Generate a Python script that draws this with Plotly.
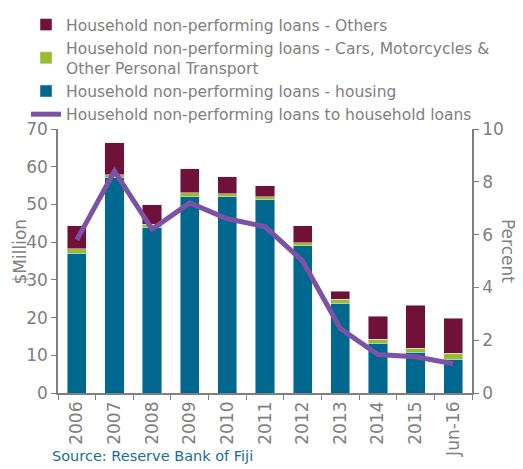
import plotly.graph_objects as go

# data
years = ['2006', '2007', '2008', '2009', '2010', '2011', '2012', '2013', '2014', '2015', 'Jun-16']
housing = [37.1, 57.2, 44.0, 52.0, 52.0, 51.2, 39.0, 23.8, 13.2, 10.8, 8.9]
cars = [1.1, 0.7, 0.8, 1.1, 0.8, 0.8, 0.8, 1.1, 1.1, 1.1, 1.6]
others = [6.1, 8.5, 5.1, 6.4, 4.5, 2.9, 4.5, 2.1, 6.1, 11.4, 9.3]
npl_ratio = [5.8, 8.4, 6.2, 7.2, 6.6, 6.3, 5.0, 2.44, 1.46, 1.37, 1.11]

grey = '#808080'
font_name = 'DejaVu Sans'

fig = go.Figure()

fig.add_trace(go.Bar(
    name='Household non-performing loans - housing',
    x=years, y=housing, marker_color='#00678F', legendrank=3
))
fig.add_trace(go.Bar(
    name='Household non-performing loans - Cars, Motorcycles &<br>Other Personal Transport',
    x=years, y=cars, marker_color='#9BBB2F', legendrank=2
))
fig.add_trace(go.Bar(
    name='Household non-performing loans - Others',
    x=years, y=others, marker_color='#701238', legendrank=1
))
fig.add_trace(go.Scatter(
    name='Household non-performing loans to household loans',
    x=years, y=npl_ratio, yaxis='y2', mode='lines',
    line=dict(color='#7B52A5', width=5), legendrank=4
))

# page body has an 8px margin, so the figure is a bit smaller than the window
fig.update_layout(
    width=515, height=461,
    barmode='stack', bargap=0.49,
    plot_bgcolor='white', paper_bgcolor='white',
    font=dict(family=font_name, color=grey, size=14),
    margin=dict(l=50, r=51, t=121, b=76, autoexpand=False),
    legend=dict(
        xref='container', yref='container',
        x=0.035, y=1.015, xanchor='left', yanchor='top',
        traceorder='normal',
        font=dict(size=15.5, color=grey), tracegroupgap=5,
        bgcolor='rgba(0,0,0,0)'
    ),
    xaxis=dict(
        automargin=False,
        showline=True, linecolor=grey, linewidth=1.5,
        ticks='outside', tickson='boundaries', ticklen=5, tickcolor=grey,
        tickangle=-90, tickfont=dict(size=17, color=grey)
    ),
    yaxis=dict(
        automargin=False,
        range=[0, 70], dtick=10, showgrid=False, zeroline=False,
        showline=True, linecolor=grey, linewidth=1.5,
        ticks='outside', ticklen=5, tickcolor=grey,
        tickfont=dict(size=17, color=grey)
    ),
    yaxis2=dict(
        automargin=False,
        range=[0, 10], dtick=2, overlaying='y', side='right',
        showgrid=False, zeroline=False,
        showline=True, linecolor=grey, linewidth=1.5,
        ticks='outside', ticklen=5, tickcolor=grey,
        tickfont=dict(size=17, color=grey)
    ),
    annotations=[
        dict(
            text='Source: Reserve Bank of Fiji', xref='paper', yref='paper',
            x=-0.019, y=-0.2, xanchor='left', yanchor='top', showarrow=False,
            font=dict(size=14.5, color='#1A6E96')
        ),
        dict(
            text='$Million', xref='paper', yref='paper',
            x=-0.093, y=0.538, xanchor='center', yanchor='middle', showarrow=False,
            textangle=-90, font=dict(size=17, color=grey)
        ),
        dict(
            text='Percent', xref='paper', yref='paper',
            x=1.087, y=0.538, xanchor='center', yanchor='middle', showarrow=False,
            textangle=90, font=dict(size=17, color=grey)
        )
    ]
)

fig.write_html("out.html")
